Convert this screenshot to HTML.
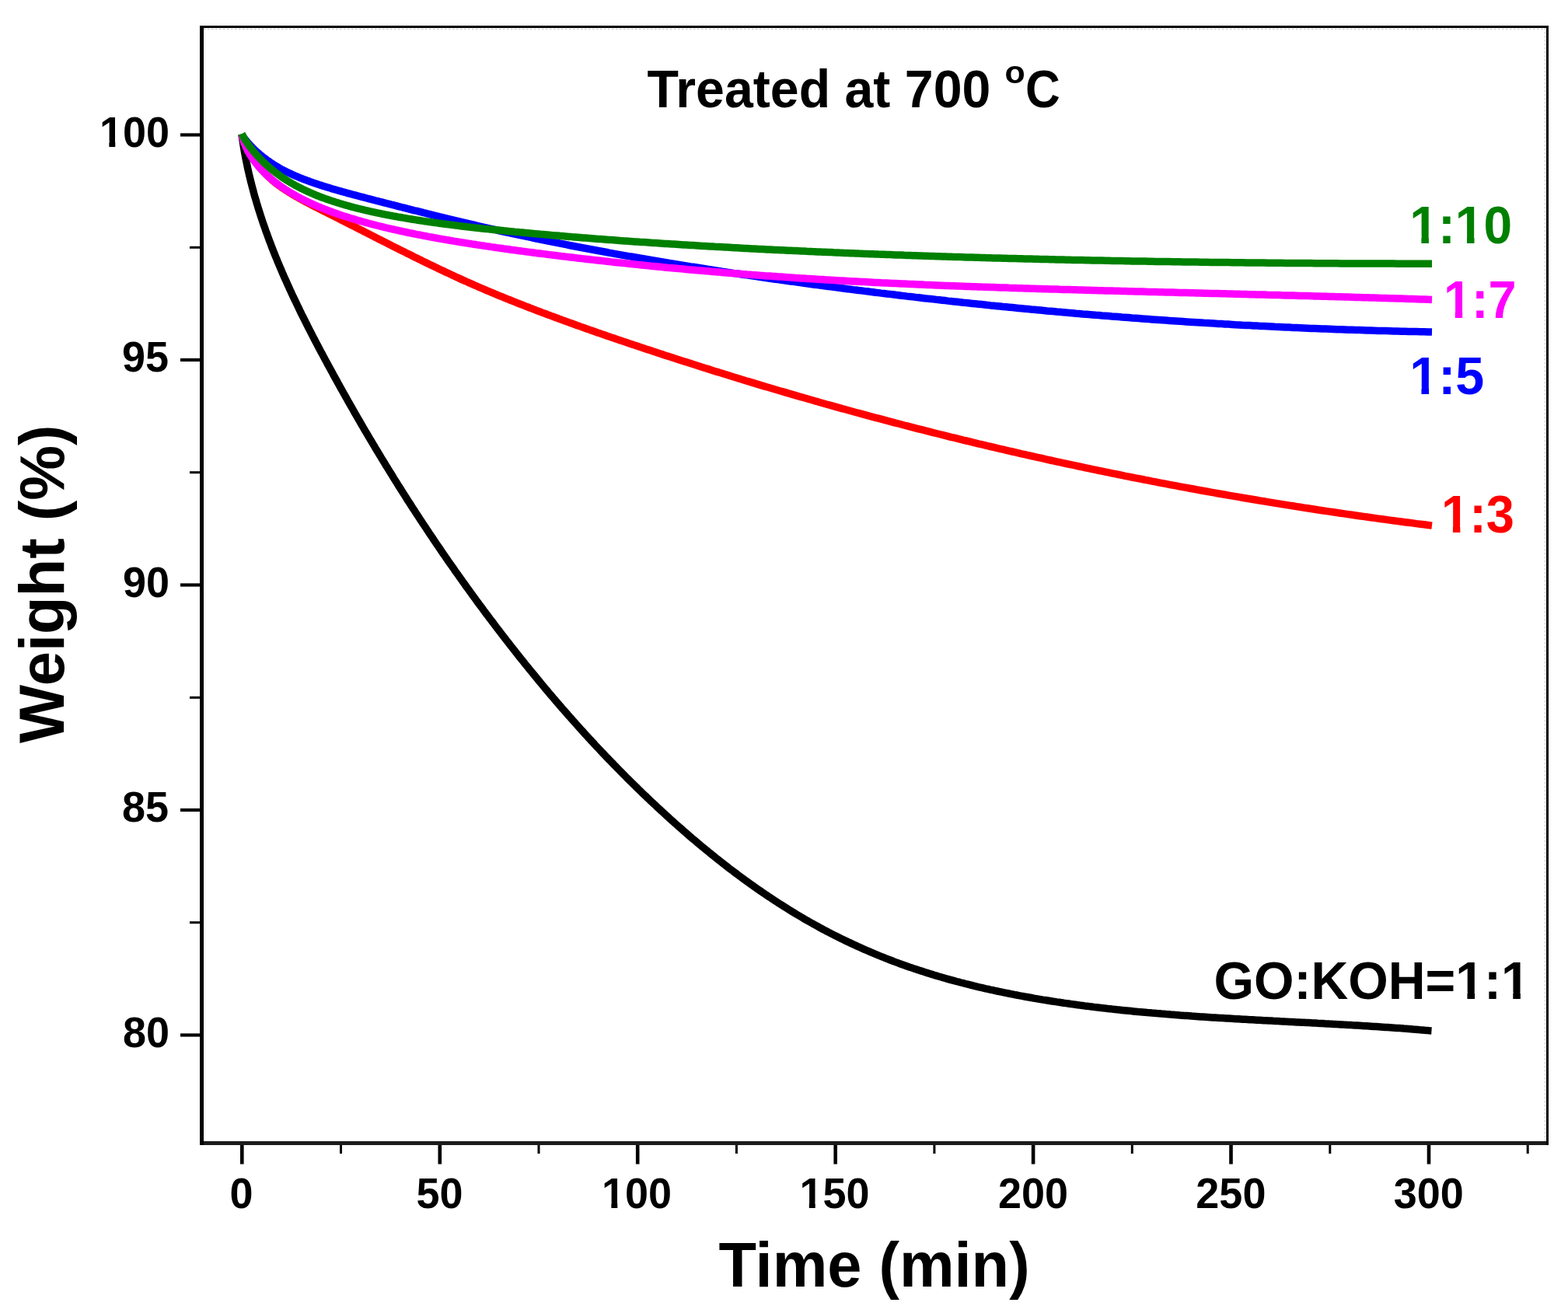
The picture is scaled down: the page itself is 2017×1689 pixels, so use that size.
<!DOCTYPE html><html><head><meta charset="utf-8"><title>Weight vs Time</title><style>html,body{margin:0;padding:0;background:#fff;}svg{display:block;}text{font-family:'Liberation Sans', Arial, sans-serif;font-weight:bold;}</style></head><body>
<svg width="2017" height="1689" viewBox="0 0 2017 1689">
<rect width="2017" height="1689" fill="#fff"/>
<g fill="none" stroke-width="9.5" stroke-linejoin="round" stroke-linecap="butt">
<path stroke="#000" d="M311.0 173.0 L311.4 176.0 L311.8 178.9 L312.3 181.9 L312.7 184.9 L313.2 187.8 L313.7 190.8 L314.2 193.7 L314.7 196.7 L315.3 199.6 L315.8 202.6 L316.4 205.5 L317.0 208.4 L317.6 211.3 L318.2 214.3 L318.8 217.2 L319.5 220.1 L320.1 223.0 L320.8 225.9 L321.5 228.8 L322.2 231.7 L322.9 234.6 L323.7 237.5 L324.4 240.4 L325.2 243.2 L325.9 246.1 L326.7 249.0 L327.5 251.9 L328.3 254.7 L329.2 257.6 L330.0 260.4 L330.9 263.3 L331.7 266.1 L332.6 269.0 L333.5 271.8 L334.4 274.7 L335.3 277.5 L336.2 280.3 L337.2 283.2 L338.1 286.0 L339.1 288.8 L340.1 291.6 L341.1 294.5 L342.0 297.3 L343.1 300.1 L344.1 302.9 L345.1 305.7 L346.1 308.5 L347.2 311.3 L348.3 314.1 L349.3 316.9 L350.4 319.6 L351.5 322.4 L352.6 325.2 L353.7 328.0 L354.8 330.7 L356.0 333.5 L357.1 336.3 L358.3 339.1 L359.4 341.8 L360.6 344.6 L361.8 347.3 L362.9 350.1 L364.1 352.8 L365.3 355.6 L366.5 358.3 L367.8 361.1 L369.0 363.8 L370.2 366.5 L371.5 369.3 L372.7 372.0 L374.0 374.7 L375.2 377.4 L376.5 380.2 L377.8 382.9 L379.1 385.6 L380.4 388.3 L381.7 391.0 L383.0 393.7 L384.3 396.4 L385.6 399.2 L386.9 401.9 L388.2 404.6 L389.6 407.3 L390.9 409.9 L392.3 412.6 L393.6 415.3 L395.0 418.0 L396.3 420.7 L397.7 423.4 L399.1 426.1 L400.5 428.7 L401.8 431.4 L403.2 434.1 L404.6 436.8 L406.0 439.4 L407.4 442.1 L408.8 444.8 L410.2 447.4 L411.6 450.1 L413.0 452.8 L414.5 455.4 L415.9 458.1 L417.3 460.7 L418.7 463.4 L420.2 466.0 L421.6 468.7 L423.0 471.3 L424.5 474.0 L425.9 476.6 L427.4 479.3 L428.8 481.9 L430.3 484.6 L431.7 487.2 L433.2 489.8 L434.6 492.5 L436.1 495.1 L437.5 497.7 L439.0 500.4 L440.5 503.0 L441.9 505.6 L443.4 508.2 L444.9 510.9 L446.4 513.5 L447.8 516.1 L449.3 518.7 L450.8 521.3 L452.3 523.9 L453.8 526.5 L455.3 529.2 L456.8 531.8 L458.3 534.4 L459.8 537.0 L461.3 539.6 L462.8 542.2 L464.3 544.8 L465.8 547.4 L467.3 550.0 L468.8 552.6 L470.3 555.1 L471.9 557.7 L473.4 560.3 L474.9 562.9 L476.4 565.5 L478.0 568.1 L479.5 570.6 L481.1 573.2 L482.6 575.8 L484.1 578.4 L485.7 580.9 L487.2 583.5 L488.8 586.1 L490.3 588.6 L491.9 591.2 L493.5 593.8 L495.0 596.3 L496.6 598.9 L498.2 601.4 L499.7 604.0 L501.3 606.5 L502.9 609.1 L504.5 611.6 L506.0 614.2 L507.6 616.7 L509.2 619.3 L510.8 621.8 L512.4 624.4 L514.0 626.9 L515.6 629.4 L517.2 632.0 L518.8 634.5 L520.4 637.0 L522.0 639.6 L523.6 642.1 L525.2 644.6 L526.9 647.1 L528.5 649.6 L530.1 652.2 L531.7 654.7 L533.4 657.2 L535.0 659.7 L536.6 662.2 L538.3 664.7 L539.9 667.2 L541.5 669.7 L543.2 672.2 L544.8 674.7 L546.5 677.2 L548.2 679.7 L549.8 682.2 L551.5 684.7 L553.1 687.2 L554.8 689.7 L556.5 692.1 L558.1 694.6 L559.8 697.1 L561.5 699.6 L563.2 702.1 L564.9 704.5 L566.6 707.0 L568.2 709.5 L569.9 711.9 L571.6 714.4 L573.3 716.9 L575.0 719.3 L576.7 721.8 L578.4 724.2 L580.2 726.7 L581.9 729.2 L583.6 731.6 L585.3 734.1 L587.0 736.5 L588.8 738.9 L590.5 741.4 L592.2 743.8 L594.0 746.3 L595.7 748.7 L597.4 751.1 L599.2 753.6 L600.9 756.0 L602.7 758.4 L604.4 760.8 L606.2 763.3 L607.9 765.7 L609.7 768.1 L611.5 770.5 L613.2 772.9 L615.0 775.4 L616.8 777.8 L618.6 780.2 L620.4 782.6 L622.1 785.0 L623.9 787.4 L625.7 789.8 L627.5 792.2 L629.3 794.6 L631.1 797.0 L632.9 799.3 L634.7 801.7 L636.5 804.1 L638.3 806.5 L640.1 808.9 L642.0 811.3 L643.8 813.6 L645.6 816.0 L647.4 818.4 L649.3 820.8 L651.1 823.1 L652.9 825.5 L654.8 827.8 L656.6 830.2 L658.5 832.6 L660.3 834.9 L662.2 837.3 L664.0 839.6 L665.9 842.0 L667.7 844.3 L669.6 846.7 L671.5 849.0 L673.4 851.3 L675.2 853.7 L677.1 856.0 L679.0 858.3 L680.9 860.7 L682.8 863.0 L684.7 865.3 L686.6 867.6 L688.5 869.9 L690.4 872.3 L692.3 874.6 L694.2 876.9 L696.1 879.2 L698.0 881.5 L699.9 883.8 L701.8 886.1 L703.8 888.4 L705.7 890.7 L707.6 893.0 L709.6 895.2 L711.5 897.5 L713.5 899.8 L715.4 902.1 L717.4 904.4 L719.3 906.6 L721.3 908.9 L723.2 911.2 L725.2 913.4 L727.2 915.7 L729.2 917.9 L731.1 920.2 L733.1 922.4 L735.1 924.7 L737.1 926.9 L739.1 929.2 L741.1 931.4 L743.1 933.6 L745.1 935.9 L747.1 938.1 L749.1 940.3 L751.1 942.5 L753.1 944.8 L755.2 947.0 L757.2 949.2 L759.2 951.4 L761.3 953.6 L763.3 955.8 L765.3 958.0 L767.4 960.2 L769.4 962.4 L771.5 964.5 L773.5 966.7 L775.6 968.9 L777.7 971.1 L779.7 973.3 L781.8 975.4 L783.9 977.6 L786.0 979.7 L788.1 981.9 L790.2 984.1 L792.3 986.2 L794.4 988.4 L796.5 990.5 L798.6 992.6 L800.7 994.8 L802.8 996.9 L804.9 999.0 L807.0 1001.2 L809.2 1003.3 L811.3 1005.4 L813.4 1007.5 L815.6 1009.6 L817.7 1011.7 L819.9 1013.8 L822.0 1015.9 L824.2 1018.0 L826.3 1020.1 L828.5 1022.2 L830.7 1024.2 L832.8 1026.3 L835.0 1028.4 L837.2 1030.5 L839.4 1032.5 L841.6 1034.6 L843.8 1036.6 L846.0 1038.7 L848.2 1040.7 L850.4 1042.8 L852.6 1044.8 L854.8 1046.8 L857.0 1048.9 L859.3 1050.9 L861.5 1052.9 L863.7 1054.9 L866.0 1056.9 L868.2 1059.0 L870.5 1061.0 L872.7 1063.0 L875.0 1064.9 L877.3 1066.9 L879.5 1068.9 L881.8 1070.9 L884.1 1072.9 L886.3 1074.8 L888.6 1076.8 L890.9 1078.8 L893.2 1080.7 L895.5 1082.6 L897.8 1084.6 L900.1 1086.5 L902.4 1088.5 L904.8 1090.4 L907.1 1092.3 L909.4 1094.2 L911.8 1096.1 L914.1 1098.0 L916.4 1099.9 L918.8 1101.8 L921.1 1103.7 L923.5 1105.5 L925.8 1107.4 L928.2 1109.3 L930.6 1111.1 L933.0 1113.0 L935.3 1114.8 L937.7 1116.7 L940.1 1118.5 L942.5 1120.3 L944.9 1122.1 L947.3 1123.9 L949.7 1125.7 L952.1 1127.5 L954.6 1129.3 L957.0 1131.1 L959.4 1132.8 L961.9 1134.6 L964.3 1136.4 L966.7 1138.1 L969.2 1139.8 L971.7 1141.6 L974.1 1143.3 L976.6 1145.0 L979.1 1146.7 L981.5 1148.4 L984.0 1150.1 L986.5 1151.8 L989.0 1153.5 L991.5 1155.1 L994.0 1156.8 L996.5 1158.4 L999.0 1160.1 L1001.5 1161.7 L1004.0 1163.3 L1006.6 1164.9 L1009.1 1166.5 L1011.6 1168.1 L1014.2 1169.7 L1016.7 1171.3 L1019.3 1172.9 L1021.9 1174.4 L1024.4 1176.0 L1027.0 1177.5 L1029.6 1179.0 L1032.1 1180.5 L1034.7 1182.1 L1037.3 1183.6 L1039.9 1185.0 L1042.5 1186.5 L1045.1 1188.0 L1047.7 1189.4 L1050.4 1190.9 L1053.0 1192.3 L1055.6 1193.8 L1058.2 1195.2 L1060.9 1196.6 L1063.5 1198.0 L1066.2 1199.4 L1068.8 1200.7 L1071.5 1202.1 L1074.2 1203.5 L1076.8 1204.8 L1079.5 1206.1 L1082.2 1207.5 L1084.9 1208.8 L1087.6 1210.1 L1090.3 1211.4 L1093.0 1212.6 L1095.7 1213.9 L1098.4 1215.2 L1101.1 1216.4 L1103.8 1217.7 L1106.6 1218.9 L1109.3 1220.1 L1112.0 1221.3 L1114.8 1222.5 L1117.5 1223.7 L1120.2 1224.9 L1123.0 1226.0 L1125.7 1227.2 L1128.5 1228.3 L1131.3 1229.5 L1134.0 1230.6 L1136.8 1231.7 L1139.6 1232.8 L1142.4 1233.9 L1145.2 1235.0 L1147.9 1236.0 L1150.7 1237.1 L1153.5 1238.1 L1156.3 1239.2 L1159.1 1240.2 L1162.0 1241.2 L1164.8 1242.2 L1167.6 1243.2 L1170.4 1244.2 L1173.2 1245.1 L1176.0 1246.1 L1178.9 1247.0 L1181.7 1248.0 L1184.6 1248.9 L1187.4 1249.8 L1190.2 1250.7 L1193.1 1251.6 L1195.9 1252.5 L1198.8 1253.4 L1201.6 1254.3 L1204.5 1255.1 L1207.4 1256.0 L1210.2 1256.8 L1213.1 1257.7 L1216.0 1258.5 L1218.9 1259.3 L1221.7 1260.1 L1224.6 1260.9 L1227.5 1261.7 L1230.4 1262.5 L1233.3 1263.2 L1236.2 1264.0 L1239.1 1264.7 L1242.0 1265.5 L1244.9 1266.2 L1247.8 1266.9 L1250.7 1267.7 L1253.6 1268.4 L1256.5 1269.1 L1259.4 1269.8 L1262.3 1270.4 L1265.2 1271.1 L1268.2 1271.8 L1271.1 1272.4 L1274.0 1273.1 L1276.9 1273.7 L1279.9 1274.4 L1282.8 1275.0 L1285.7 1275.6 L1288.6 1276.2 L1291.6 1276.8 L1294.5 1277.4 L1297.5 1278.0 L1300.4 1278.6 L1303.3 1279.2 L1306.3 1279.8 L1309.2 1280.3 L1312.2 1280.9 L1315.1 1281.4 L1318.1 1282.0 L1321.0 1282.5 L1324.0 1283.0 L1326.9 1283.5 L1329.9 1284.1 L1332.9 1284.6 L1335.8 1285.1 L1338.8 1285.6 L1341.7 1286.1 L1344.7 1286.5 L1347.7 1287.0 L1350.6 1287.5 L1353.6 1288.0 L1356.6 1288.4 L1359.5 1288.9 L1362.5 1289.3 L1365.5 1289.7 L1368.5 1290.2 L1371.4 1290.6 L1374.4 1291.0 L1377.4 1291.5 L1380.3 1291.9 L1383.3 1292.3 L1386.3 1292.7 L1389.3 1293.1 L1392.3 1293.5 L1395.2 1293.9 L1398.2 1294.2 L1401.2 1294.6 L1404.2 1295.0 L1407.2 1295.4 L1410.1 1295.7 L1413.1 1296.1 L1416.1 1296.4 L1419.1 1296.8 L1422.1 1297.1 L1425.1 1297.5 L1428.1 1297.8 L1431.0 1298.1 L1434.0 1298.4 L1437.0 1298.8 L1440.0 1299.1 L1443.0 1299.4 L1446.0 1299.7 L1449.0 1300.0 L1452.0 1300.3 L1455.0 1300.6 L1458.0 1300.9 L1460.9 1301.2 L1463.9 1301.5 L1466.9 1301.7 L1469.9 1302.0 L1472.9 1302.3 L1475.9 1302.6 L1478.9 1302.8 L1481.9 1303.1 L1484.9 1303.3 L1487.9 1303.6 L1490.9 1303.8 L1493.9 1304.1 L1496.9 1304.3 L1499.9 1304.6 L1502.9 1304.8 L1505.9 1305.1 L1508.9 1305.3 L1511.9 1305.5 L1514.9 1305.7 L1517.9 1306.0 L1520.9 1306.2 L1523.9 1306.4 L1526.9 1306.6 L1529.9 1306.8 L1532.9 1307.1 L1535.9 1307.3 L1538.9 1307.5 L1541.9 1307.7 L1544.9 1307.9 L1547.9 1308.1 L1550.9 1308.3 L1553.9 1308.5 L1557.0 1308.7 L1560.0 1308.9 L1563.0 1309.0 L1566.0 1309.2 L1569.0 1309.4 L1572.0 1309.6 L1575.0 1309.8 L1578.0 1310.0 L1581.0 1310.1 L1584.0 1310.3 L1587.0 1310.5 L1590.0 1310.7 L1593.0 1310.8 L1596.0 1311.0 L1599.0 1311.2 L1602.0 1311.3 L1605.0 1311.5 L1608.0 1311.7 L1611.1 1311.8 L1614.1 1312.0 L1617.1 1312.2 L1620.1 1312.3 L1623.1 1312.5 L1626.1 1312.7 L1629.1 1312.8 L1632.1 1313.0 L1635.1 1313.1 L1638.1 1313.3 L1641.1 1313.4 L1644.1 1313.6 L1647.1 1313.8 L1650.1 1313.9 L1653.1 1314.1 L1656.1 1314.2 L1659.1 1314.4 L1662.1 1314.5 L1665.1 1314.7 L1668.1 1314.9 L1671.1 1315.0 L1674.1 1315.2 L1677.1 1315.3 L1680.2 1315.5 L1683.2 1315.6 L1686.2 1315.8 L1689.2 1316.0 L1692.2 1316.1 L1695.2 1316.3 L1698.2 1316.4 L1701.2 1316.6 L1704.2 1316.8 L1707.2 1316.9 L1710.1 1317.1 L1713.1 1317.2 L1716.1 1317.4 L1719.1 1317.6 L1722.1 1317.7 L1725.1 1317.9 L1728.1 1318.1 L1731.1 1318.2 L1734.1 1318.4 L1737.1 1318.6 L1740.1 1318.8 L1743.1 1318.9 L1746.1 1319.1 L1749.1 1319.3 L1752.1 1319.5 L1755.1 1319.7 L1758.1 1319.8 L1761.0 1320.0 L1764.0 1320.2 L1767.0 1320.4 L1770.0 1320.6 L1773.0 1320.8 L1776.0 1321.0 L1779.0 1321.2 L1782.0 1321.4 L1784.9 1321.6 L1787.9 1321.8 L1790.9 1322.0 L1793.9 1322.2 L1796.9 1322.4 L1799.8 1322.6 L1802.8 1322.8 L1805.8 1323.1 L1808.8 1323.3 L1811.8 1323.5 L1814.7 1323.7 L1817.7 1324.0 L1820.7 1324.2 L1823.7 1324.4 L1826.6 1324.7 L1829.6 1324.9 L1832.6 1325.2 L1835.6 1325.4 L1838.5 1325.7 L1841.5 1325.9"/>
<path stroke="#f00" d="M311.0 173.0 L311.1 173.5 L311.3 174.1 L311.4 174.6 L311.6 175.2 L311.7 175.7 L311.9 176.3 L312.1 176.9 L312.3 177.5 L312.5 178.1 L312.7 178.7 L312.9 179.3 L313.1 179.9 L313.3 180.5 L313.6 181.1 L313.8 181.8 L314.1 182.4 L314.3 183.1 L314.6 183.7 L314.9 184.4 L315.2 185.0 L315.5 185.7 L315.8 186.4 L316.1 187.0 L316.4 187.7 L316.7 188.4 L317.1 189.1 L317.4 189.8 L317.7 190.5 L318.1 191.2 L318.5 191.9 L318.8 192.6 L319.2 193.3 L319.6 194.1 L320.0 194.8 L320.4 195.5 L320.8 196.2 L321.3 197.0 L321.7 197.7 L322.1 198.4 L322.6 199.2 L323.0 199.9 L323.5 200.7 L324.0 201.4 L324.5 202.2 L324.9 202.9 L325.4 203.7 L325.9 204.4 L326.5 205.2 L327.0 205.9 L327.5 206.7 L328.0 207.4 L328.6 208.2 L329.1 208.9 L329.7 209.7 L330.3 210.5 L330.8 211.2 L331.4 212.0 L332.0 212.7 L332.6 213.5 L333.2 214.2 L333.9 215.0 L334.5 215.8 L335.1 216.5 L335.8 217.3 L336.4 218.0 L337.1 218.8 L337.7 219.5 L338.4 220.3 L339.1 221.0 L339.8 221.8 L340.5 222.5 L341.2 223.2 L341.9 224.0 L342.6 224.7 L343.4 225.4 L344.1 226.2 L344.8 226.9 L345.6 227.6 L346.4 228.3 L347.1 229.0 L347.9 229.8 L348.7 230.5 L349.5 231.2 L350.3 231.9 L351.1 232.6 L351.9 233.2 L352.8 233.9 L353.6 234.6 L354.4 235.3 L355.3 236.0 L356.2 236.6 L357.0 237.3 L357.9 238.0 L358.8 238.6 L359.7 239.3 L360.6 239.9 L361.5 240.6 L362.4 241.2 L363.3 241.9 L364.3 242.5 L365.2 243.1 L366.2 243.8 L367.1 244.4 L368.1 245.0 L369.1 245.7 L370.1 246.3 L371.0 246.9 L372.0 247.6 L373.1 248.2 L374.1 248.8 L375.1 249.4 L376.1 250.0 L377.2 250.7 L378.2 251.3 L379.3 251.9 L380.3 252.5 L381.4 253.1 L382.5 253.7 L383.6 254.3 L384.7 255.0 L385.8 255.6 L386.9 256.2 L388.0 256.8 L389.1 257.4 L390.3 258.0 L391.4 258.6 L392.6 259.3 L393.7 259.9 L394.9 260.5 L396.1 261.1 L397.3 261.7 L398.5 262.4 L399.7 263.0 L400.9 263.6 L402.1 264.3 L403.3 264.9 L404.5 265.5 L405.8 266.2 L407.0 266.8 L408.3 267.4 L409.6 268.1 L410.8 268.7 L412.1 269.4 L413.4 270.0 L414.7 270.7 L416.0 271.3 L417.3 272.0 L418.7 272.7 L420.0 273.3 L421.3 274.0 L422.7 274.7 L424.0 275.4 L425.4 276.1 L426.8 276.7 L428.1 277.4 L429.5 278.1 L430.9 278.8 L432.3 279.6 L433.7 280.3 L435.2 281.0 L436.6 281.7 L438.0 282.4 L439.5 283.2 L440.9 283.9 L442.4 284.7 L443.9 285.4 L445.3 286.2 L446.8 286.9 L448.3 287.7 L449.8 288.4 L451.3 289.2 L452.8 290.0 L454.4 290.8 L455.9 291.5 L457.5 292.3 L459.0 293.1 L460.6 293.9 L462.1 294.7 L463.7 295.5 L465.3 296.3 L466.9 297.1 L468.5 298.0 L470.1 298.8 L471.7 299.6 L473.3 300.4 L475.0 301.3 L476.6 302.1 L478.2 302.9 L479.9 303.8 L481.6 304.6 L483.2 305.5 L484.9 306.3 L486.6 307.2 L488.3 308.1 L490.0 308.9 L491.7 309.8 L493.4 310.7 L495.2 311.5 L496.9 312.4 L498.6 313.3 L500.4 314.2 L502.2 315.1 L503.9 316.0 L505.7 316.9 L507.5 317.8 L509.3 318.7 L511.1 319.6 L512.9 320.5 L514.7 321.4 L516.5 322.3 L518.4 323.2 L520.2 324.1 L522.1 325.1 L523.9 326.0 L525.8 326.9 L527.7 327.8 L529.6 328.8 L531.4 329.7 L533.3 330.7 L535.2 331.6 L537.2 332.5 L539.1 333.5 L541.0 334.4 L543.0 335.4 L544.9 336.4 L546.9 337.3 L548.8 338.3 L550.8 339.2 L552.8 340.2 L554.8 341.2 L556.8 342.1 L558.8 343.1 L560.8 344.0 L562.8 345.0 L564.8 346.0 L566.9 347.0 L568.9 347.9 L571.0 348.9 L573.0 349.9 L575.1 350.8 L577.2 351.8 L579.3 352.8 L581.4 353.8 L583.5 354.7 L585.6 355.7 L587.7 356.7 L589.8 357.6 L591.9 358.6 L594.1 359.6 L596.2 360.6 L598.4 361.5 L600.6 362.5 L602.7 363.5 L604.9 364.4 L607.1 365.4 L609.3 366.4 L611.5 367.3 L613.7 368.3 L616.0 369.3 L618.2 370.2 L620.4 371.2 L622.7 372.1 L624.9 373.1 L627.2 374.1 L629.5 375.0 L631.7 376.0 L634.0 376.9 L636.3 377.9 L638.6 378.8 L640.9 379.8 L643.3 380.8 L645.6 381.7 L647.9 382.7 L650.3 383.6 L652.6 384.6 L655.0 385.5 L657.4 386.5 L659.7 387.4 L662.1 388.4 L664.5 389.3 L666.9 390.3 L669.3 391.2 L671.8 392.2 L674.2 393.1 L676.6 394.1 L679.1 395.0 L681.5 396.0 L684.0 396.9 L686.4 397.9 L688.9 398.8 L691.4 399.8 L693.9 400.7 L696.4 401.7 L698.9 402.6 L701.4 403.5 L703.9 404.5 L706.5 405.4 L709.0 406.4 L711.5 407.3 L714.1 408.3 L716.7 409.2 L719.2 410.2 L721.8 411.1 L724.4 412.1 L727.0 413.0 L729.6 413.9 L732.2 414.9 L734.8 415.8 L737.5 416.8 L740.1 417.7 L742.7 418.7 L745.4 419.6 L748.1 420.6 L750.7 421.5 L753.4 422.5 L756.1 423.4 L758.8 424.4 L761.5 425.3 L764.2 426.3 L766.9 427.2 L769.6 428.2 L772.4 429.1 L775.1 430.1 L777.9 431.0 L780.6 432.0 L783.4 432.9 L786.2 433.9 L789.0 434.8 L791.7 435.8 L794.5 436.7 L797.4 437.7 L800.2 438.6 L803.0 439.6 L805.8 440.5 L808.7 441.5 L811.5 442.5 L814.4 443.4 L817.2 444.4 L820.1 445.3 L823.0 446.3 L825.9 447.2 L828.8 448.2 L831.7 449.2 L834.6 450.1 L837.5 451.1 L840.4 452.1 L843.4 453.0 L846.3 454.0 L849.3 455.0 L852.2 455.9 L855.2 456.9 L858.2 457.9 L861.2 458.8 L864.2 459.8 L867.2 460.8 L870.2 461.7 L873.2 462.7 L876.2 463.7 L879.3 464.7 L882.3 465.6 L885.3 466.6 L888.4 467.6 L891.5 468.6 L894.5 469.5 L897.6 470.5 L900.7 471.5 L903.8 472.5 L906.9 473.5 L910.0 474.4 L913.2 475.4 L916.3 476.4 L919.4 477.4 L922.6 478.4 L925.7 479.3 L928.9 480.3 L932.1 481.3 L935.3 482.3 L938.4 483.3 L941.6 484.3 L944.8 485.2 L948.1 486.2 L951.3 487.2 L954.5 488.2 L957.7 489.2 L961.0 490.2 L964.2 491.1 L967.5 492.1 L970.8 493.1 L974.1 494.1 L977.3 495.1 L980.6 496.1 L983.9 497.1 L987.2 498.0 L990.6 499.0 L993.9 500.0 L997.2 501.0 L1000.6 502.0 L1003.9 503.0 L1007.3 503.9 L1010.6 504.9 L1014.0 505.9 L1017.4 506.9 L1020.8 507.9 L1024.2 508.9 L1027.6 509.9 L1031.0 510.8 L1034.4 511.8 L1037.9 512.8 L1041.3 513.8 L1044.8 514.8 L1048.2 515.8 L1051.7 516.7 L1055.1 517.7 L1058.6 518.7 L1062.1 519.7 L1065.6 520.7 L1069.1 521.6 L1072.6 522.6 L1076.2 523.6 L1079.7 524.6 L1083.2 525.6 L1086.8 526.5 L1090.3 527.5 L1093.9 528.5 L1097.4 529.5 L1101.0 530.5 L1104.6 531.4 L1108.2 532.4 L1111.8 533.4 L1115.4 534.4 L1119.0 535.3 L1122.7 536.3 L1126.3 537.3 L1129.9 538.2 L1133.6 539.2 L1137.2 540.2 L1140.9 541.2 L1144.6 542.1 L1148.3 543.1 L1152.0 544.1 L1155.7 545.0 L1159.4 546.0 L1163.1 547.0 L1166.8 547.9 L1170.5 548.9 L1174.3 549.9 L1178.0 550.8 L1181.8 551.8 L1185.5 552.7 L1189.3 553.7 L1193.1 554.6 L1196.9 555.6 L1200.7 556.6 L1204.5 557.5 L1208.3 558.5 L1212.1 559.4 L1216.0 560.4 L1219.8 561.3 L1223.6 562.3 L1227.5 563.2 L1231.4 564.2 L1235.2 565.1 L1239.1 566.1 L1243.0 567.0 L1246.9 567.9 L1250.8 568.9 L1254.7 569.8 L1258.6 570.8 L1262.5 571.7 L1266.5 572.6 L1270.4 573.6 L1274.4 574.5 L1278.3 575.4 L1282.3 576.4 L1286.3 577.3 L1290.2 578.2 L1294.2 579.2 L1298.2 580.1 L1302.2 581.0 L1306.3 581.9 L1310.3 582.8 L1314.3 583.8 L1318.4 584.7 L1322.4 585.6 L1326.5 586.5 L1330.5 587.4 L1334.6 588.3 L1338.7 589.2 L1342.8 590.2 L1346.9 591.1 L1351.0 592.0 L1355.1 592.9 L1359.2 593.8 L1363.3 594.7 L1367.5 595.6 L1371.6 596.5 L1375.8 597.4 L1379.9 598.2 L1384.1 599.1 L1388.3 600.0 L1392.5 600.9 L1396.7 601.8 L1400.9 602.7 L1405.1 603.6 L1409.3 604.4 L1413.5 605.3 L1417.7 606.2 L1422.0 607.1 L1426.2 607.9 L1430.5 608.8 L1434.8 609.7 L1439.0 610.5 L1443.3 611.4 L1447.6 612.3 L1451.9 613.1 L1456.2 614.0 L1460.5 614.8 L1464.9 615.7 L1469.2 616.5 L1473.5 617.4 L1477.9 618.2 L1482.2 619.1 L1486.6 619.9 L1491.0 620.8 L1495.3 621.6 L1499.7 622.4 L1504.1 623.3 L1508.5 624.1 L1513.0 624.9 L1517.4 625.8 L1521.8 626.6 L1526.2 627.4 L1530.7 628.2 L1535.1 629.0 L1539.6 629.9 L1544.1 630.7 L1548.5 631.5 L1553.0 632.3 L1557.5 633.1 L1562.0 633.9 L1566.5 634.7 L1571.1 635.5 L1575.6 636.3 L1580.1 637.1 L1584.7 637.9 L1589.2 638.6 L1593.8 639.4 L1598.3 640.2 L1602.9 641.0 L1607.5 641.8 L1612.1 642.5 L1616.7 643.3 L1621.3 644.1 L1625.9 644.8 L1630.5 645.6 L1635.2 646.4 L1639.8 647.1 L1644.5 647.9 L1649.1 648.6 L1653.8 649.4 L1658.4 650.1 L1663.1 650.8 L1667.8 651.6 L1672.5 652.3 L1677.2 653.1 L1681.9 653.8 L1686.6 654.5 L1691.4 655.2 L1696.1 656.0 L1700.9 656.7 L1705.6 657.4 L1710.4 658.1 L1715.1 658.8 L1719.9 659.5 L1724.7 660.2 L1729.5 660.9 L1734.3 661.6 L1739.1 662.3 L1743.9 663.0 L1748.8 663.7 L1753.6 664.4 L1758.4 665.0 L1763.3 665.7 L1768.1 666.4 L1773.0 667.1 L1777.9 667.7 L1782.8 668.4 L1787.7 669.1 L1792.6 669.7 L1797.5 670.4 L1802.4 671.0 L1807.3 671.7 L1812.2 672.3 L1817.2 672.9 L1822.1 673.6 L1827.1 674.2 L1832.0 674.8 L1837.0 675.5 L1842.0 676.1"/>
<path stroke="#00f" d="M311.0 173.0 L311.1 173.2 L311.3 173.5 L311.4 173.7 L311.6 174.0 L311.7 174.2 L311.9 174.5 L312.1 174.8 L312.3 175.1 L312.5 175.4 L312.7 175.7 L312.9 176.0 L313.1 176.3 L313.3 176.6 L313.6 177.0 L313.8 177.3 L314.1 177.6 L314.3 178.0 L314.6 178.3 L314.9 178.7 L315.2 179.1 L315.5 179.5 L315.8 179.8 L316.1 180.2 L316.4 180.6 L316.7 181.0 L317.1 181.4 L317.4 181.8 L317.7 182.3 L318.1 182.7 L318.5 183.1 L318.8 183.5 L319.2 184.0 L319.6 184.4 L320.0 184.9 L320.4 185.3 L320.8 185.8 L321.3 186.2 L321.7 186.7 L322.1 187.2 L322.6 187.6 L323.0 188.1 L323.5 188.6 L324.0 189.1 L324.5 189.6 L324.9 190.1 L325.4 190.6 L325.9 191.1 L326.5 191.6 L327.0 192.1 L327.5 192.6 L328.0 193.1 L328.6 193.6 L329.1 194.1 L329.7 194.6 L330.3 195.1 L330.8 195.6 L331.4 196.2 L332.0 196.7 L332.6 197.2 L333.2 197.7 L333.9 198.3 L334.5 198.8 L335.1 199.3 L335.8 199.9 L336.4 200.4 L337.1 200.9 L337.7 201.5 L338.4 202.0 L339.1 202.5 L339.8 203.1 L340.5 203.6 L341.2 204.1 L341.9 204.7 L342.6 205.2 L343.4 205.8 L344.1 206.3 L344.8 206.8 L345.6 207.4 L346.4 207.9 L347.1 208.4 L347.9 209.0 L348.7 209.5 L349.5 210.0 L350.3 210.6 L351.1 211.1 L351.9 211.6 L352.8 212.1 L353.6 212.7 L354.4 213.2 L355.3 213.7 L356.2 214.2 L357.0 214.7 L357.9 215.2 L358.8 215.8 L359.7 216.3 L360.6 216.8 L361.5 217.3 L362.4 217.8 L363.3 218.3 L364.3 218.8 L365.2 219.3 L366.2 219.7 L367.1 220.2 L368.1 220.7 L369.1 221.2 L370.1 221.7 L371.0 222.2 L372.0 222.6 L373.1 223.1 L374.1 223.6 L375.1 224.1 L376.1 224.5 L377.2 225.0 L378.2 225.5 L379.3 225.9 L380.3 226.4 L381.4 226.8 L382.5 227.3 L383.6 227.7 L384.7 228.2 L385.8 228.6 L386.9 229.1 L388.0 229.5 L389.1 230.0 L390.3 230.4 L391.4 230.9 L392.6 231.3 L393.7 231.7 L394.9 232.2 L396.1 232.6 L397.3 233.0 L398.5 233.5 L399.7 233.9 L400.9 234.3 L402.1 234.8 L403.3 235.2 L404.5 235.6 L405.8 236.0 L407.0 236.4 L408.3 236.9 L409.6 237.3 L410.8 237.7 L412.1 238.1 L413.4 238.5 L414.7 239.0 L416.0 239.4 L417.3 239.8 L418.7 240.2 L420.0 240.6 L421.3 241.0 L422.7 241.4 L424.0 241.8 L425.4 242.2 L426.8 242.7 L428.1 243.1 L429.5 243.5 L430.9 243.9 L432.3 244.3 L433.7 244.7 L435.2 245.1 L436.6 245.5 L438.0 245.9 L439.5 246.3 L440.9 246.7 L442.4 247.1 L443.9 247.5 L445.3 247.9 L446.8 248.4 L448.3 248.8 L449.8 249.2 L451.3 249.6 L452.8 250.0 L454.4 250.4 L455.9 250.8 L457.5 251.2 L459.0 251.6 L460.6 252.0 L462.1 252.5 L463.7 252.9 L465.3 253.3 L466.9 253.7 L468.5 254.1 L470.1 254.5 L471.7 255.0 L473.3 255.4 L475.0 255.8 L476.6 256.2 L478.2 256.7 L479.9 257.1 L481.6 257.5 L483.2 258.0 L484.9 258.4 L486.6 258.8 L488.3 259.3 L490.0 259.7 L491.7 260.1 L493.4 260.6 L495.2 261.0 L496.9 261.5 L498.6 261.9 L500.4 262.4 L502.2 262.8 L503.9 263.3 L505.7 263.7 L507.5 264.2 L509.3 264.6 L511.1 265.1 L512.9 265.6 L514.7 266.0 L516.5 266.5 L518.4 267.0 L520.2 267.4 L522.1 267.9 L523.9 268.4 L525.8 268.8 L527.7 269.3 L529.6 269.8 L531.4 270.3 L533.3 270.8 L535.2 271.2 L537.2 271.7 L539.1 272.2 L541.0 272.7 L543.0 273.2 L544.9 273.7 L546.9 274.1 L548.8 274.6 L550.8 275.1 L552.8 275.6 L554.8 276.1 L556.8 276.6 L558.8 277.1 L560.8 277.6 L562.8 278.1 L564.8 278.6 L566.9 279.1 L568.9 279.6 L571.0 280.1 L573.0 280.6 L575.1 281.1 L577.2 281.6 L579.3 282.1 L581.4 282.6 L583.5 283.1 L585.6 283.6 L587.7 284.1 L589.8 284.6 L591.9 285.1 L594.1 285.7 L596.2 286.2 L598.4 286.7 L600.6 287.2 L602.7 287.7 L604.9 288.2 L607.1 288.7 L609.3 289.2 L611.5 289.7 L613.7 290.3 L616.0 290.8 L618.2 291.3 L620.4 291.8 L622.7 292.3 L624.9 292.8 L627.2 293.4 L629.5 293.9 L631.7 294.4 L634.0 294.9 L636.3 295.4 L638.6 295.9 L640.9 296.5 L643.3 297.0 L645.6 297.5 L647.9 298.0 L650.3 298.5 L652.6 299.0 L655.0 299.6 L657.4 300.1 L659.7 300.6 L662.1 301.1 L664.5 301.6 L666.9 302.1 L669.3 302.7 L671.8 303.2 L674.2 303.7 L676.6 304.2 L679.1 304.7 L681.5 305.2 L684.0 305.7 L686.4 306.3 L688.9 306.8 L691.4 307.3 L693.9 307.8 L696.4 308.3 L698.9 308.8 L701.4 309.3 L703.9 309.8 L706.5 310.4 L709.0 310.9 L711.5 311.4 L714.1 311.9 L716.7 312.4 L719.2 312.9 L721.8 313.4 L724.4 313.9 L727.0 314.4 L729.6 314.9 L732.2 315.5 L734.8 316.0 L737.5 316.5 L740.1 317.0 L742.7 317.5 L745.4 318.0 L748.1 318.5 L750.7 319.0 L753.4 319.5 L756.1 320.0 L758.8 320.5 L761.5 321.0 L764.2 321.5 L766.9 322.0 L769.6 322.5 L772.4 323.0 L775.1 323.5 L777.9 324.0 L780.6 324.5 L783.4 325.1 L786.2 325.6 L789.0 326.1 L791.7 326.6 L794.5 327.1 L797.4 327.6 L800.2 328.1 L803.0 328.6 L805.8 329.1 L808.7 329.6 L811.5 330.0 L814.4 330.5 L817.2 331.0 L820.1 331.5 L823.0 332.0 L825.9 332.5 L828.8 333.0 L831.7 333.5 L834.6 334.0 L837.5 334.5 L840.4 335.0 L843.4 335.5 L846.3 336.0 L849.3 336.5 L852.2 337.0 L855.2 337.5 L858.2 338.0 L861.2 338.5 L864.2 338.9 L867.2 339.4 L870.2 339.9 L873.2 340.4 L876.2 340.9 L879.3 341.4 L882.3 341.9 L885.3 342.4 L888.4 342.9 L891.5 343.3 L894.5 343.8 L897.6 344.3 L900.7 344.8 L903.8 345.3 L906.9 345.8 L910.0 346.3 L913.2 346.7 L916.3 347.2 L919.4 347.7 L922.6 348.2 L925.7 348.7 L928.9 349.2 L932.1 349.6 L935.3 350.1 L938.4 350.6 L941.6 351.1 L944.8 351.6 L948.1 352.0 L951.3 352.5 L954.5 353.0 L957.7 353.5 L961.0 353.9 L964.2 354.4 L967.5 354.9 L970.8 355.4 L974.1 355.8 L977.3 356.3 L980.6 356.8 L983.9 357.3 L987.2 357.7 L990.6 358.2 L993.9 358.7 L997.2 359.2 L1000.6 359.6 L1003.9 360.1 L1007.3 360.6 L1010.6 361.0 L1014.0 361.5 L1017.4 362.0 L1020.8 362.4 L1024.2 362.9 L1027.6 363.4 L1031.0 363.8 L1034.4 364.3 L1037.9 364.8 L1041.3 365.2 L1044.8 365.7 L1048.2 366.2 L1051.7 366.6 L1055.1 367.1 L1058.6 367.5 L1062.1 368.0 L1065.6 368.5 L1069.1 368.9 L1072.6 369.4 L1076.2 369.8 L1079.7 370.3 L1083.2 370.7 L1086.8 371.2 L1090.3 371.7 L1093.9 372.1 L1097.4 372.6 L1101.0 373.0 L1104.6 373.5 L1108.2 373.9 L1111.8 374.4 L1115.4 374.8 L1119.0 375.3 L1122.7 375.7 L1126.3 376.2 L1129.9 376.6 L1133.6 377.1 L1137.2 377.5 L1140.9 378.0 L1144.6 378.4 L1148.3 378.8 L1152.0 379.3 L1155.7 379.7 L1159.4 380.2 L1163.1 380.6 L1166.8 381.1 L1170.5 381.5 L1174.3 381.9 L1178.0 382.4 L1181.8 382.8 L1185.5 383.2 L1189.3 383.7 L1193.1 384.1 L1196.9 384.5 L1200.7 384.9 L1204.5 385.4 L1208.3 385.8 L1212.1 386.2 L1216.0 386.6 L1219.8 387.1 L1223.6 387.5 L1227.5 387.9 L1231.4 388.3 L1235.2 388.7 L1239.1 389.2 L1243.0 389.6 L1246.9 390.0 L1250.8 390.4 L1254.7 390.8 L1258.6 391.2 L1262.5 391.6 L1266.5 392.0 L1270.4 392.4 L1274.4 392.9 L1278.3 393.3 L1282.3 393.7 L1286.3 394.1 L1290.2 394.5 L1294.2 394.8 L1298.2 395.2 L1302.2 395.6 L1306.3 396.0 L1310.3 396.4 L1314.3 396.8 L1318.4 397.2 L1322.4 397.6 L1326.5 398.0 L1330.5 398.3 L1334.6 398.7 L1338.7 399.1 L1342.8 399.5 L1346.9 399.9 L1351.0 400.2 L1355.1 400.6 L1359.2 401.0 L1363.3 401.3 L1367.5 401.7 L1371.6 402.1 L1375.8 402.4 L1379.9 402.8 L1384.1 403.2 L1388.3 403.5 L1392.5 403.9 L1396.7 404.2 L1400.9 404.6 L1405.1 404.9 L1409.3 405.3 L1413.5 405.6 L1417.7 406.0 L1422.0 406.3 L1426.2 406.6 L1430.5 407.0 L1434.8 407.3 L1439.0 407.6 L1443.3 408.0 L1447.6 408.3 L1451.9 408.6 L1456.2 409.0 L1460.5 409.3 L1464.9 409.6 L1469.2 409.9 L1473.5 410.2 L1477.9 410.6 L1482.2 410.9 L1486.6 411.2 L1491.0 411.5 L1495.3 411.8 L1499.7 412.1 L1504.1 412.4 L1508.5 412.7 L1513.0 413.0 L1517.4 413.3 L1521.8 413.6 L1526.2 413.9 L1530.7 414.2 L1535.1 414.4 L1539.6 414.7 L1544.1 415.0 L1548.5 415.3 L1553.0 415.5 L1557.5 415.8 L1562.0 416.1 L1566.5 416.4 L1571.1 416.6 L1575.6 416.9 L1580.1 417.1 L1584.7 417.4 L1589.2 417.7 L1593.8 417.9 L1598.3 418.2 L1602.9 418.4 L1607.5 418.6 L1612.1 418.9 L1616.7 419.1 L1621.3 419.4 L1625.9 419.6 L1630.5 419.8 L1635.2 420.0 L1639.8 420.3 L1644.5 420.5 L1649.1 420.7 L1653.8 420.9 L1658.4 421.1 L1663.1 421.4 L1667.8 421.6 L1672.5 421.8 L1677.2 422.0 L1681.9 422.2 L1686.6 422.4 L1691.4 422.6 L1696.1 422.7 L1700.9 422.9 L1705.6 423.1 L1710.4 423.3 L1715.1 423.5 L1719.9 423.7 L1724.7 423.8 L1729.5 424.0 L1734.3 424.2 L1739.1 424.3 L1743.9 424.5 L1748.8 424.6 L1753.6 424.8 L1758.4 424.9 L1763.3 425.1 L1768.1 425.2 L1773.0 425.4 L1777.9 425.5 L1782.8 425.6 L1787.7 425.8 L1792.6 425.9 L1797.5 426.0 L1802.4 426.2 L1807.3 426.3 L1812.2 426.4 L1817.2 426.5 L1822.1 426.6 L1827.1 426.7 L1832.0 426.8 L1837.0 426.9 L1842.0 427.0"/>
<path stroke="#f0f" d="M311.0 173.0 L311.1 173.6 L311.3 174.3 L311.4 175.0 L311.6 175.6 L311.7 176.3 L311.9 176.9 L312.1 177.6 L312.3 178.3 L312.5 178.9 L312.7 179.6 L312.9 180.3 L313.1 181.0 L313.3 181.6 L313.6 182.3 L313.8 183.0 L314.1 183.7 L314.3 184.4 L314.6 185.1 L314.9 185.7 L315.2 186.4 L315.5 187.1 L315.8 187.8 L316.1 188.5 L316.4 189.2 L316.7 189.9 L317.1 190.6 L317.4 191.3 L317.7 192.0 L318.1 192.7 L318.5 193.4 L318.8 194.1 L319.2 194.9 L319.6 195.6 L320.0 196.3 L320.4 197.0 L320.8 197.7 L321.3 198.4 L321.7 199.1 L322.1 199.8 L322.6 200.5 L323.0 201.2 L323.5 202.0 L324.0 202.7 L324.5 203.4 L324.9 204.1 L325.4 204.8 L325.9 205.5 L326.5 206.2 L327.0 207.0 L327.5 207.7 L328.0 208.4 L328.6 209.1 L329.1 209.8 L329.7 210.5 L330.3 211.2 L330.8 211.9 L331.4 212.7 L332.0 213.4 L332.6 214.1 L333.2 214.8 L333.9 215.5 L334.5 216.2 L335.1 216.9 L335.8 217.6 L336.4 218.3 L337.1 219.0 L337.7 219.7 L338.4 220.4 L339.1 221.1 L339.8 221.8 L340.5 222.5 L341.2 223.2 L341.9 223.9 L342.6 224.6 L343.4 225.3 L344.1 225.9 L344.8 226.6 L345.6 227.3 L346.4 228.0 L347.1 228.7 L347.9 229.4 L348.7 230.0 L349.5 230.7 L350.3 231.4 L351.1 232.0 L351.9 232.7 L352.8 233.4 L353.6 234.0 L354.4 234.7 L355.3 235.3 L356.2 236.0 L357.0 236.7 L357.9 237.3 L358.8 238.0 L359.7 238.6 L360.6 239.2 L361.5 239.9 L362.4 240.5 L363.3 241.2 L364.3 241.8 L365.2 242.4 L366.2 243.1 L367.1 243.7 L368.1 244.3 L369.1 244.9 L370.1 245.6 L371.0 246.2 L372.0 246.8 L373.1 247.4 L374.1 248.0 L375.1 248.6 L376.1 249.2 L377.2 249.8 L378.2 250.4 L379.3 251.0 L380.3 251.6 L381.4 252.2 L382.5 252.8 L383.6 253.4 L384.7 254.0 L385.8 254.6 L386.9 255.2 L388.0 255.8 L389.1 256.3 L390.3 256.9 L391.4 257.5 L392.6 258.1 L393.7 258.6 L394.9 259.2 L396.1 259.8 L397.3 260.3 L398.5 260.9 L399.7 261.4 L400.9 262.0 L402.1 262.5 L403.3 263.1 L404.5 263.6 L405.8 264.2 L407.0 264.7 L408.3 265.2 L409.6 265.8 L410.8 266.3 L412.1 266.8 L413.4 267.4 L414.7 267.9 L416.0 268.4 L417.3 268.9 L418.7 269.4 L420.0 270.0 L421.3 270.5 L422.7 271.0 L424.0 271.5 L425.4 272.0 L426.8 272.5 L428.1 273.0 L429.5 273.5 L430.9 274.0 L432.3 274.5 L433.7 275.0 L435.2 275.5 L436.6 276.0 L438.0 276.4 L439.5 276.9 L440.9 277.4 L442.4 277.9 L443.9 278.4 L445.3 278.8 L446.8 279.3 L448.3 279.8 L449.8 280.3 L451.3 280.7 L452.8 281.2 L454.4 281.6 L455.9 282.1 L457.5 282.6 L459.0 283.0 L460.6 283.5 L462.1 283.9 L463.7 284.4 L465.3 284.8 L466.9 285.3 L468.5 285.7 L470.1 286.2 L471.7 286.6 L473.3 287.0 L475.0 287.5 L476.6 287.9 L478.2 288.3 L479.9 288.8 L481.6 289.2 L483.2 289.6 L484.9 290.0 L486.6 290.5 L488.3 290.9 L490.0 291.3 L491.7 291.7 L493.4 292.1 L495.2 292.6 L496.9 293.0 L498.6 293.4 L500.4 293.8 L502.2 294.2 L503.9 294.6 L505.7 295.0 L507.5 295.4 L509.3 295.8 L511.1 296.2 L512.9 296.6 L514.7 297.0 L516.5 297.4 L518.4 297.8 L520.2 298.2 L522.1 298.6 L523.9 299.0 L525.8 299.4 L527.7 299.8 L529.6 300.1 L531.4 300.5 L533.3 300.9 L535.2 301.3 L537.2 301.7 L539.1 302.0 L541.0 302.4 L543.0 302.8 L544.9 303.2 L546.9 303.5 L548.8 303.9 L550.8 304.3 L552.8 304.7 L554.8 305.0 L556.8 305.4 L558.8 305.8 L560.8 306.1 L562.8 306.5 L564.8 306.9 L566.9 307.2 L568.9 307.6 L571.0 307.9 L573.0 308.3 L575.1 308.6 L577.2 309.0 L579.3 309.4 L581.4 309.7 L583.5 310.1 L585.6 310.4 L587.7 310.8 L589.8 311.1 L591.9 311.5 L594.1 311.8 L596.2 312.1 L598.4 312.5 L600.6 312.8 L602.7 313.2 L604.9 313.5 L607.1 313.9 L609.3 314.2 L611.5 314.5 L613.7 314.9 L616.0 315.2 L618.2 315.6 L620.4 315.9 L622.7 316.2 L624.9 316.6 L627.2 316.9 L629.5 317.2 L631.7 317.6 L634.0 317.9 L636.3 318.2 L638.6 318.6 L640.9 318.9 L643.3 319.2 L645.6 319.5 L647.9 319.9 L650.3 320.2 L652.6 320.5 L655.0 320.8 L657.4 321.2 L659.7 321.5 L662.1 321.8 L664.5 322.1 L666.9 322.5 L669.3 322.8 L671.8 323.1 L674.2 323.4 L676.6 323.8 L679.1 324.1 L681.5 324.4 L684.0 324.7 L686.4 325.0 L688.9 325.4 L691.4 325.7 L693.9 326.0 L696.4 326.3 L698.9 326.6 L701.4 326.9 L703.9 327.3 L706.5 327.6 L709.0 327.9 L711.5 328.2 L714.1 328.5 L716.7 328.8 L719.2 329.1 L721.8 329.5 L724.4 329.8 L727.0 330.1 L729.6 330.4 L732.2 330.7 L734.8 331.0 L737.5 331.3 L740.1 331.6 L742.7 332.0 L745.4 332.3 L748.1 332.6 L750.7 332.9 L753.4 333.2 L756.1 333.5 L758.8 333.8 L761.5 334.1 L764.2 334.4 L766.9 334.7 L769.6 335.0 L772.4 335.3 L775.1 335.6 L777.9 335.9 L780.6 336.2 L783.4 336.5 L786.2 336.9 L789.0 337.2 L791.7 337.5 L794.5 337.8 L797.4 338.0 L800.2 338.3 L803.0 338.6 L805.8 338.9 L808.7 339.2 L811.5 339.5 L814.4 339.8 L817.2 340.1 L820.1 340.4 L823.0 340.7 L825.9 341.0 L828.8 341.3 L831.7 341.6 L834.6 341.9 L837.5 342.2 L840.4 342.4 L843.4 342.7 L846.3 343.0 L849.3 343.3 L852.2 343.6 L855.2 343.9 L858.2 344.2 L861.2 344.4 L864.2 344.7 L867.2 345.0 L870.2 345.3 L873.2 345.6 L876.2 345.8 L879.3 346.1 L882.3 346.4 L885.3 346.7 L888.4 346.9 L891.5 347.2 L894.5 347.5 L897.6 347.8 L900.7 348.0 L903.8 348.3 L906.9 348.6 L910.0 348.8 L913.2 349.1 L916.3 349.4 L919.4 349.6 L922.6 349.9 L925.7 350.1 L928.9 350.4 L932.1 350.7 L935.3 350.9 L938.4 351.2 L941.6 351.4 L944.8 351.7 L948.1 352.0 L951.3 352.2 L954.5 352.5 L957.7 352.7 L961.0 353.0 L964.2 353.2 L967.5 353.5 L970.8 353.7 L974.1 353.9 L977.3 354.2 L980.6 354.4 L983.9 354.7 L987.2 354.9 L990.6 355.1 L993.9 355.4 L997.2 355.6 L1000.6 355.9 L1003.9 356.1 L1007.3 356.3 L1010.6 356.6 L1014.0 356.8 L1017.4 357.0 L1020.8 357.2 L1024.2 357.5 L1027.6 357.7 L1031.0 357.9 L1034.4 358.1 L1037.9 358.4 L1041.3 358.6 L1044.8 358.8 L1048.2 359.0 L1051.7 359.2 L1055.1 359.4 L1058.6 359.6 L1062.1 359.9 L1065.6 360.1 L1069.1 360.3 L1072.6 360.5 L1076.2 360.7 L1079.7 360.9 L1083.2 361.1 L1086.8 361.3 L1090.3 361.5 L1093.9 361.7 L1097.4 361.9 L1101.0 362.1 L1104.6 362.3 L1108.2 362.5 L1111.8 362.6 L1115.4 362.8 L1119.0 363.0 L1122.7 363.2 L1126.3 363.4 L1129.9 363.6 L1133.6 363.8 L1137.2 363.9 L1140.9 364.1 L1144.6 364.3 L1148.3 364.5 L1152.0 364.6 L1155.7 364.8 L1159.4 365.0 L1163.1 365.1 L1166.8 365.3 L1170.5 365.5 L1174.3 365.6 L1178.0 365.8 L1181.8 366.0 L1185.5 366.1 L1189.3 366.3 L1193.1 366.4 L1196.9 366.6 L1200.7 366.7 L1204.5 366.9 L1208.3 367.1 L1212.1 367.2 L1216.0 367.4 L1219.8 367.5 L1223.6 367.7 L1227.5 367.8 L1231.4 367.9 L1235.2 368.1 L1239.1 368.2 L1243.0 368.4 L1246.9 368.5 L1250.8 368.7 L1254.7 368.8 L1258.6 368.9 L1262.5 369.1 L1266.5 369.2 L1270.4 369.3 L1274.4 369.5 L1278.3 369.6 L1282.3 369.7 L1286.3 369.9 L1290.2 370.0 L1294.2 370.1 L1298.2 370.3 L1302.2 370.4 L1306.3 370.5 L1310.3 370.7 L1314.3 370.8 L1318.4 370.9 L1322.4 371.0 L1326.5 371.2 L1330.5 371.3 L1334.6 371.4 L1338.7 371.5 L1342.8 371.7 L1346.9 371.8 L1351.0 371.9 L1355.1 372.0 L1359.2 372.1 L1363.3 372.3 L1367.5 372.4 L1371.6 372.5 L1375.8 372.6 L1379.9 372.7 L1384.1 372.8 L1388.3 373.0 L1392.5 373.1 L1396.7 373.2 L1400.9 373.3 L1405.1 373.4 L1409.3 373.5 L1413.5 373.7 L1417.7 373.8 L1422.0 373.9 L1426.2 374.0 L1430.5 374.1 L1434.8 374.2 L1439.0 374.3 L1443.3 374.5 L1447.6 374.6 L1451.9 374.7 L1456.2 374.8 L1460.5 374.9 L1464.9 375.0 L1469.2 375.1 L1473.5 375.2 L1477.9 375.4 L1482.2 375.5 L1486.6 375.6 L1491.0 375.7 L1495.3 375.8 L1499.7 375.9 L1504.1 376.0 L1508.5 376.1 L1513.0 376.2 L1517.4 376.4 L1521.8 376.5 L1526.2 376.6 L1530.7 376.7 L1535.1 376.8 L1539.6 376.9 L1544.1 377.0 L1548.5 377.2 L1553.0 377.3 L1557.5 377.4 L1562.0 377.5 L1566.5 377.6 L1571.1 377.7 L1575.6 377.8 L1580.1 378.0 L1584.7 378.1 L1589.2 378.2 L1593.8 378.3 L1598.3 378.4 L1602.9 378.5 L1607.5 378.7 L1612.1 378.8 L1616.7 378.9 L1621.3 379.0 L1625.9 379.1 L1630.5 379.3 L1635.2 379.4 L1639.8 379.5 L1644.5 379.6 L1649.1 379.8 L1653.8 379.9 L1658.4 380.0 L1663.1 380.1 L1667.8 380.3 L1672.5 380.4 L1677.2 380.5 L1681.9 380.6 L1686.6 380.8 L1691.4 380.9 L1696.1 381.0 L1700.9 381.2 L1705.6 381.3 L1710.4 381.4 L1715.1 381.6 L1719.9 381.7 L1724.7 381.8 L1729.5 382.0 L1734.3 382.1 L1739.1 382.2 L1743.9 382.4 L1748.8 382.5 L1753.6 382.7 L1758.4 382.8 L1763.3 383.0 L1768.1 383.1 L1773.0 383.2 L1777.9 383.4 L1782.8 383.5 L1787.7 383.7 L1792.6 383.8 L1797.5 384.0 L1802.4 384.1 L1807.3 384.3 L1812.2 384.5 L1817.2 384.6 L1822.1 384.8 L1827.1 384.9 L1832.0 385.1 L1837.0 385.2 L1842.0 385.4"/>
<path stroke="#008000" d="M311.0 172.0 L311.1 172.3 L311.3 172.6 L311.4 172.9 L311.6 173.3 L311.7 173.6 L311.9 173.9 L312.1 174.3 L312.3 174.7 L312.5 175.0 L312.7 175.4 L312.9 175.8 L313.1 176.2 L313.3 176.6 L313.6 177.0 L313.8 177.4 L314.1 177.9 L314.3 178.3 L314.6 178.8 L314.9 179.2 L315.2 179.7 L315.5 180.1 L315.8 180.6 L316.1 181.1 L316.4 181.6 L316.7 182.1 L317.1 182.6 L317.4 183.1 L317.7 183.6 L318.1 184.1 L318.5 184.7 L318.8 185.2 L319.2 185.7 L319.6 186.3 L320.0 186.8 L320.4 187.4 L320.8 188.0 L321.3 188.5 L321.7 189.1 L322.1 189.7 L322.6 190.3 L323.0 190.8 L323.5 191.4 L324.0 192.0 L324.5 192.6 L324.9 193.2 L325.4 193.8 L325.9 194.5 L326.5 195.1 L327.0 195.7 L327.5 196.3 L328.0 196.9 L328.6 197.6 L329.1 198.2 L329.7 198.8 L330.3 199.5 L330.8 200.1 L331.4 200.8 L332.0 201.4 L332.6 202.0 L333.2 202.7 L333.9 203.3 L334.5 204.0 L335.1 204.7 L335.8 205.3 L336.4 206.0 L337.1 206.6 L337.7 207.3 L338.4 208.0 L339.1 208.6 L339.8 209.3 L340.5 209.9 L341.2 210.6 L341.9 211.3 L342.6 211.9 L343.4 212.6 L344.1 213.3 L344.8 213.9 L345.6 214.6 L346.4 215.3 L347.1 215.9 L347.9 216.6 L348.7 217.3 L349.5 217.9 L350.3 218.6 L351.1 219.3 L351.9 219.9 L352.8 220.6 L353.6 221.2 L354.4 221.9 L355.3 222.5 L356.2 223.2 L357.0 223.8 L357.9 224.5 L358.8 225.1 L359.7 225.8 L360.6 226.4 L361.5 227.1 L362.4 227.7 L363.3 228.3 L364.3 229.0 L365.2 229.6 L366.2 230.2 L367.1 230.8 L368.1 231.5 L369.1 232.1 L370.1 232.7 L371.0 233.3 L372.0 233.9 L373.1 234.5 L374.1 235.1 L375.1 235.7 L376.1 236.3 L377.2 236.9 L378.2 237.5 L379.3 238.1 L380.3 238.7 L381.4 239.2 L382.5 239.8 L383.6 240.4 L384.7 241.0 L385.8 241.5 L386.9 242.1 L388.0 242.6 L389.1 243.2 L390.3 243.8 L391.4 244.3 L392.6 244.9 L393.7 245.4 L394.9 245.9 L396.1 246.5 L397.3 247.0 L398.5 247.6 L399.7 248.1 L400.9 248.6 L402.1 249.1 L403.3 249.6 L404.5 250.2 L405.8 250.7 L407.0 251.2 L408.3 251.7 L409.6 252.2 L410.8 252.7 L412.1 253.2 L413.4 253.7 L414.7 254.2 L416.0 254.6 L417.3 255.1 L418.7 255.6 L420.0 256.1 L421.3 256.5 L422.7 257.0 L424.0 257.5 L425.4 257.9 L426.8 258.4 L428.1 258.9 L429.5 259.3 L430.9 259.8 L432.3 260.2 L433.7 260.6 L435.2 261.1 L436.6 261.5 L438.0 262.0 L439.5 262.4 L440.9 262.8 L442.4 263.3 L443.9 263.7 L445.3 264.1 L446.8 264.5 L448.3 264.9 L449.8 265.3 L451.3 265.8 L452.8 266.2 L454.4 266.6 L455.9 267.0 L457.5 267.4 L459.0 267.8 L460.6 268.2 L462.1 268.5 L463.7 268.9 L465.3 269.3 L466.9 269.7 L468.5 270.1 L470.1 270.5 L471.7 270.8 L473.3 271.2 L475.0 271.6 L476.6 272.0 L478.2 272.3 L479.9 272.7 L481.6 273.0 L483.2 273.4 L484.9 273.8 L486.6 274.1 L488.3 274.5 L490.0 274.8 L491.7 275.2 L493.4 275.5 L495.2 275.9 L496.9 276.2 L498.6 276.5 L500.4 276.9 L502.2 277.2 L503.9 277.5 L505.7 277.9 L507.5 278.2 L509.3 278.5 L511.1 278.9 L512.9 279.2 L514.7 279.5 L516.5 279.8 L518.4 280.1 L520.2 280.4 L522.1 280.8 L523.9 281.1 L525.8 281.4 L527.7 281.7 L529.6 282.0 L531.4 282.3 L533.3 282.6 L535.2 282.9 L537.2 283.2 L539.1 283.5 L541.0 283.8 L543.0 284.1 L544.9 284.4 L546.9 284.7 L548.8 284.9 L550.8 285.2 L552.8 285.5 L554.8 285.8 L556.8 286.1 L558.8 286.4 L560.8 286.6 L562.8 286.9 L564.8 287.2 L566.9 287.5 L568.9 287.7 L571.0 288.0 L573.0 288.3 L575.1 288.6 L577.2 288.8 L579.3 289.1 L581.4 289.3 L583.5 289.6 L585.6 289.9 L587.7 290.1 L589.8 290.4 L591.9 290.7 L594.1 290.9 L596.2 291.2 L598.4 291.4 L600.6 291.7 L602.7 291.9 L604.9 292.2 L607.1 292.4 L609.3 292.7 L611.5 292.9 L613.7 293.2 L616.0 293.4 L618.2 293.7 L620.4 293.9 L622.7 294.2 L624.9 294.4 L627.2 294.6 L629.5 294.9 L631.7 295.1 L634.0 295.4 L636.3 295.6 L638.6 295.8 L640.9 296.1 L643.3 296.3 L645.6 296.5 L647.9 296.8 L650.3 297.0 L652.6 297.2 L655.0 297.5 L657.4 297.7 L659.7 297.9 L662.1 298.2 L664.5 298.4 L666.9 298.6 L669.3 298.9 L671.8 299.1 L674.2 299.3 L676.6 299.6 L679.1 299.8 L681.5 300.0 L684.0 300.2 L686.4 300.5 L688.9 300.7 L691.4 300.9 L693.9 301.1 L696.4 301.4 L698.9 301.6 L701.4 301.8 L703.9 302.0 L706.5 302.2 L709.0 302.5 L711.5 302.7 L714.1 302.9 L716.7 303.1 L719.2 303.3 L721.8 303.6 L724.4 303.8 L727.0 304.0 L729.6 304.2 L732.2 304.4 L734.8 304.6 L737.5 304.9 L740.1 305.1 L742.7 305.3 L745.4 305.5 L748.1 305.7 L750.7 305.9 L753.4 306.1 L756.1 306.3 L758.8 306.6 L761.5 306.8 L764.2 307.0 L766.9 307.2 L769.6 307.4 L772.4 307.6 L775.1 307.8 L777.9 308.0 L780.6 308.2 L783.4 308.4 L786.2 308.6 L789.0 308.8 L791.7 309.0 L794.5 309.2 L797.4 309.5 L800.2 309.7 L803.0 309.9 L805.8 310.1 L808.7 310.3 L811.5 310.5 L814.4 310.7 L817.2 310.9 L820.1 311.1 L823.0 311.3 L825.9 311.4 L828.8 311.6 L831.7 311.8 L834.6 312.0 L837.5 312.2 L840.4 312.4 L843.4 312.6 L846.3 312.8 L849.3 313.0 L852.2 313.2 L855.2 313.4 L858.2 313.6 L861.2 313.8 L864.2 314.0 L867.2 314.1 L870.2 314.3 L873.2 314.5 L876.2 314.7 L879.3 314.9 L882.3 315.1 L885.3 315.3 L888.4 315.5 L891.5 315.6 L894.5 315.8 L897.6 316.0 L900.7 316.2 L903.8 316.4 L906.9 316.5 L910.0 316.7 L913.2 316.9 L916.3 317.1 L919.4 317.3 L922.6 317.4 L925.7 317.6 L928.9 317.8 L932.1 318.0 L935.3 318.1 L938.4 318.3 L941.6 318.5 L944.8 318.7 L948.1 318.8 L951.3 319.0 L954.5 319.2 L957.7 319.4 L961.0 319.5 L964.2 319.7 L967.5 319.9 L970.8 320.0 L974.1 320.2 L977.3 320.4 L980.6 320.5 L983.9 320.7 L987.2 320.9 L990.6 321.0 L993.9 321.2 L997.2 321.4 L1000.6 321.5 L1003.9 321.7 L1007.3 321.8 L1010.6 322.0 L1014.0 322.2 L1017.4 322.3 L1020.8 322.5 L1024.2 322.6 L1027.6 322.8 L1031.0 323.0 L1034.4 323.1 L1037.9 323.3 L1041.3 323.4 L1044.8 323.6 L1048.2 323.7 L1051.7 323.9 L1055.1 324.0 L1058.6 324.2 L1062.1 324.3 L1065.6 324.5 L1069.1 324.6 L1072.6 324.8 L1076.2 324.9 L1079.7 325.1 L1083.2 325.2 L1086.8 325.4 L1090.3 325.5 L1093.9 325.7 L1097.4 325.8 L1101.0 325.9 L1104.6 326.1 L1108.2 326.2 L1111.8 326.4 L1115.4 326.5 L1119.0 326.7 L1122.7 326.8 L1126.3 326.9 L1129.9 327.1 L1133.6 327.2 L1137.2 327.3 L1140.9 327.5 L1144.6 327.6 L1148.3 327.7 L1152.0 327.9 L1155.7 328.0 L1159.4 328.1 L1163.1 328.3 L1166.8 328.4 L1170.5 328.5 L1174.3 328.7 L1178.0 328.8 L1181.8 328.9 L1185.5 329.0 L1189.3 329.2 L1193.1 329.3 L1196.9 329.4 L1200.7 329.5 L1204.5 329.7 L1208.3 329.8 L1212.1 329.9 L1216.0 330.0 L1219.8 330.2 L1223.6 330.3 L1227.5 330.4 L1231.4 330.5 L1235.2 330.6 L1239.1 330.7 L1243.0 330.9 L1246.9 331.0 L1250.8 331.1 L1254.7 331.2 L1258.6 331.3 L1262.5 331.4 L1266.5 331.5 L1270.4 331.7 L1274.4 331.8 L1278.3 331.9 L1282.3 332.0 L1286.3 332.1 L1290.2 332.2 L1294.2 332.3 L1298.2 332.4 L1302.2 332.5 L1306.3 332.6 L1310.3 332.7 L1314.3 332.8 L1318.4 332.9 L1322.4 333.0 L1326.5 333.1 L1330.5 333.2 L1334.6 333.3 L1338.7 333.4 L1342.8 333.5 L1346.9 333.6 L1351.0 333.7 L1355.1 333.8 L1359.2 333.9 L1363.3 334.0 L1367.5 334.1 L1371.6 334.2 L1375.8 334.3 L1379.9 334.4 L1384.1 334.5 L1388.3 334.5 L1392.5 334.6 L1396.7 334.7 L1400.9 334.8 L1405.1 334.9 L1409.3 335.0 L1413.5 335.1 L1417.7 335.1 L1422.0 335.2 L1426.2 335.3 L1430.5 335.4 L1434.8 335.5 L1439.0 335.5 L1443.3 335.6 L1447.6 335.7 L1451.9 335.8 L1456.2 335.9 L1460.5 335.9 L1464.9 336.0 L1469.2 336.1 L1473.5 336.1 L1477.9 336.2 L1482.2 336.3 L1486.6 336.4 L1491.0 336.4 L1495.3 336.5 L1499.7 336.6 L1504.1 336.6 L1508.5 336.7 L1513.0 336.8 L1517.4 336.8 L1521.8 336.9 L1526.2 337.0 L1530.7 337.0 L1535.1 337.1 L1539.6 337.1 L1544.1 337.2 L1548.5 337.3 L1553.0 337.3 L1557.5 337.4 L1562.0 337.4 L1566.5 337.5 L1571.1 337.5 L1575.6 337.6 L1580.1 337.6 L1584.7 337.7 L1589.2 337.7 L1593.8 337.8 L1598.3 337.8 L1602.9 337.9 L1607.5 337.9 L1612.1 338.0 L1616.7 338.0 L1621.3 338.1 L1625.9 338.1 L1630.5 338.2 L1635.2 338.2 L1639.8 338.3 L1644.5 338.3 L1649.1 338.3 L1653.8 338.4 L1658.4 338.4 L1663.1 338.5 L1667.8 338.5 L1672.5 338.5 L1677.2 338.6 L1681.9 338.6 L1686.6 338.6 L1691.4 338.7 L1696.1 338.7 L1700.9 338.7 L1705.6 338.8 L1710.4 338.8 L1715.1 338.8 L1719.9 338.8 L1724.7 338.9 L1729.5 338.9 L1734.3 338.9 L1739.1 338.9 L1743.9 339.0 L1748.8 339.0 L1753.6 339.0 L1758.4 339.0 L1763.3 339.0 L1768.1 339.1 L1773.0 339.1 L1777.9 339.1 L1782.8 339.1 L1787.7 339.1 L1792.6 339.1 L1797.5 339.2 L1802.4 339.2 L1807.3 339.2 L1812.2 339.2 L1817.2 339.2 L1822.1 339.2 L1827.1 339.2 L1832.0 339.2 L1837.0 339.2 L1842.0 339.2"/>
</g>
<g fill="#000">
<rect x="257" y="33" width="5" height="1440"/>
<rect x="257" y="1468" width="1735" height="5" fill="#1c1c1c"/>
<rect x="257" y="1468" width="5" height="5"/>
<rect x="257" y="33" width="1735" height="3"/>
<rect x="1989" y="33" width="3" height="1440"/>
<line x1="262" y1="37.5" x2="1987" y2="37.5" stroke="#c4c4c4" stroke-width="1" stroke-dasharray="2.5 2.5"/>
<line x1="1987.5" y1="36" x2="1987.5" y2="1468" stroke="#c4c4c4" stroke-width="1" stroke-dasharray="2.5 2.5"/>
<rect x="309.0" y="1473" width="4.6" height="24.5"/>
<rect x="563.5" y="1473" width="4.6" height="24.5"/>
<rect x="817.9" y="1473" width="4.6" height="24.5"/>
<rect x="1072.4" y="1473" width="4.6" height="24.5"/>
<rect x="1326.8" y="1473" width="4.6" height="24.5"/>
<rect x="1581.2" y="1473" width="4.6" height="24.5"/>
<rect x="1835.7" y="1473" width="4.6" height="24.5"/>
<rect x="437.0" y="1473" width="3" height="11"/>
<rect x="691.5" y="1473" width="3" height="11"/>
<rect x="945.9" y="1473" width="3" height="11"/>
<rect x="1200.4" y="1473" width="3" height="11"/>
<rect x="1454.8" y="1473" width="3" height="11"/>
<rect x="1709.3" y="1473" width="3" height="11"/>
<rect x="1963.7" y="1473" width="3" height="11"/>
<rect x="232" y="1329.4" width="25" height="4.2"/>
<rect x="232" y="1039.9" width="25" height="4.2"/>
<rect x="232" y="750.4" width="25" height="4.2"/>
<rect x="232" y="460.9" width="25" height="4.2"/>
<rect x="232" y="171.4" width="25" height="4.2"/>
<rect x="244" y="1185.2" width="13" height="3"/>
<rect x="244" y="895.8" width="13" height="3"/>
<rect x="244" y="606.2" width="13" height="3"/>
<rect x="244" y="316.8" width="13" height="3"/>
</g>
<text transform="matrix(1.0193 0 0 1.0407 832.50 138.30)" font-size="65" fill="#000">Treated at 700</text>
<text transform="matrix(1.0217 0 0 0.9609 1292.48 107.00)" font-size="42" fill="#000">o</text>
<text transform="matrix(0.9535 0 0 1.0407 1318.89 138.30)" font-size="65" fill="#000">C</text>
<text transform="matrix(1.0183 0 0 1.0407 924.50 1655.00)" font-size="78" fill="#000">Time (min)</text>
<text transform="matrix(0 -1.0201 1.0407 0 81.80 956.00)" font-size="78" fill="#000">Weight (%)</text>
<g transform="matrix(1.0137 0 0 1.0407 1813.25 313.00)"><text font-size="65" fill="#008000">1:10</text><rect x="2.89" y="-8.23" width="12.03" height="9.43" fill="#fff"/><rect x="24.34" y="-8.23" width="11.20" height="9.43" fill="#fff"/><rect x="60.68" y="-8.23" width="12.03" height="9.43" fill="#fff"/><rect x="82.12" y="-8.23" width="11.20" height="9.43" fill="#fff"/></g>
<g transform="matrix(0.9966 0 0 1.0407 1856.91 409.00)"><text font-size="65" fill="#f0f">1:7</text><rect x="2.89" y="-8.23" width="12.03" height="9.43" fill="#fff"/><rect x="24.34" y="-8.23" width="11.20" height="9.43" fill="#fff"/></g>
<g transform="matrix(1.0227 0 0 1.0407 1813.21 507.00)"><text font-size="65" fill="#00f">1:5</text><rect x="2.89" y="-8.23" width="12.03" height="9.43" fill="#fff"/><rect x="24.34" y="-8.23" width="11.20" height="9.43" fill="#fff"/></g>
<g transform="matrix(1.0000 0 0 1.0407 1854.00 685.00)"><text font-size="65" fill="#f00">1:3</text><rect x="2.89" y="-8.23" width="12.03" height="9.43" fill="#fff"/><rect x="24.34" y="-8.23" width="11.20" height="9.43" fill="#fff"/></g>
<g transform="matrix(1.0181 0 0 1.0407 1561.56 1285.00)"><text font-size="65" fill="#000">GO:KOH=1:1</text><rect x="308.05" y="-8.23" width="12.03" height="9.43" fill="#fff"/><rect x="329.50" y="-8.23" width="11.20" height="9.43" fill="#fff"/><rect x="365.85" y="-8.23" width="12.03" height="9.43" fill="#fff"/><rect x="387.29" y="-8.23" width="11.20" height="9.43" fill="#fff"/></g>
<text transform="matrix(1.0000 0 0 1.0407 295.60 1554.00)" font-size="54" fill="#000">0</text>
<text transform="matrix(1.0000 0 0 1.0407 535.55 1554.00)" font-size="54" fill="#000">50</text>
<g transform="matrix(1.0000 0 0 1.0407 774.00 1554.00)"><text font-size="54" fill="#000">100</text><rect x="2.20" y="-7.11" width="10.15" height="8.31" fill="#fff"/><rect x="20.26" y="-7.11" width="9.47" height="8.31" fill="#fff"/></g>
<g transform="matrix(1.0000 0 0 1.0407 1028.45 1554.00)"><text font-size="54" fill="#000">150</text><rect x="2.20" y="-7.11" width="10.15" height="8.31" fill="#fff"/><rect x="20.26" y="-7.11" width="9.47" height="8.31" fill="#fff"/></g>
<text transform="matrix(1.0000 0 0 1.0407 1283.90 1554.00)" font-size="54" fill="#000">200</text>
<text transform="matrix(1.0000 0 0 1.0407 1538.35 1554.00)" font-size="54" fill="#000">250</text>
<text transform="matrix(1.0000 0 0 1.0407 1792.80 1554.00)" font-size="54" fill="#000">300</text>
<text transform="matrix(1.0000 0 0 1.0407 158.00 1346.50)" font-size="54" fill="#000">80</text>
<text transform="matrix(1.0000 0 0 1.0407 157.00 1057.00)" font-size="54" fill="#000">85</text>
<text transform="matrix(1.0000 0 0 1.0407 158.00 767.50)" font-size="54" fill="#000">90</text>
<text transform="matrix(1.0000 0 0 1.0407 157.00 478.00)" font-size="54" fill="#000">95</text>
<g transform="matrix(1.0000 0 0 1.0407 128.00 188.50)"><text font-size="54" fill="#000">100</text><rect x="2.20" y="-7.11" width="10.15" height="8.31" fill="#fff"/><rect x="20.26" y="-7.11" width="9.47" height="8.31" fill="#fff"/></g>
</svg></body></html>
